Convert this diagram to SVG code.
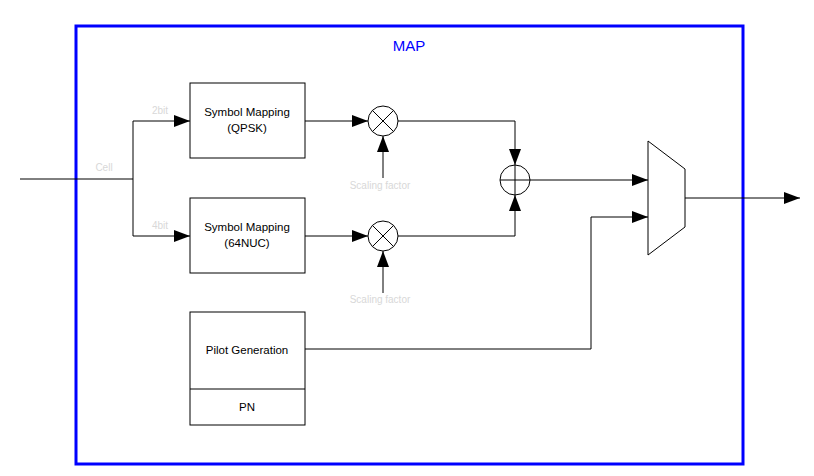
<svg xmlns="http://www.w3.org/2000/svg" width="814" height="476" viewBox="0 0 814 476">
<style>
.box{fill:#fff;stroke:#000;stroke-width:1}
.ln{fill:none;stroke:#000;stroke-width:1}
.t{font-family:"Liberation Sans",Arial,sans-serif;font-size:11.5px;fill:#000;text-anchor:middle}
.f{font-family:"Liberation Sans",Arial,sans-serif;font-size:10px;fill:#d8d8d8;text-anchor:middle}
</style>
<defs>
<marker id="ah" markerWidth="16" markerHeight="12" refX="16" refY="6" orient="auto" markerUnits="userSpaceOnUse">
<path d="M0,0 L16,6 L0,12 Z" fill="#000"/>
</marker>
</defs>
<rect width="814" height="476" fill="#fff"/>
<g id="frame">
<rect x="76" y="26" width="667" height="438" fill="none" stroke="#0000ff" stroke-width="3"/>
<text x="409" y="51" style="font-family:'Liberation Sans',Arial,sans-serif;font-size:15px;fill:#0000ff;text-anchor:middle">MAP</text>
</g>
<g id="connectors">
<path class="ln" d="M20,179 H133"/>
<path class="ln" d="M133,121 V236"/>
<path class="ln" d="M133,121 H190" marker-end="url(#ah)"/>
<path class="ln" d="M133,236 H190" marker-end="url(#ah)"/>
<path class="ln" d="M305,121 H368" marker-end="url(#ah)"/>
<path class="ln" d="M305,236 H368" marker-end="url(#ah)"/>
<path class="ln" d="M383,178 V136" marker-end="url(#ah)"/>
<path class="ln" d="M383,293 V251" marker-end="url(#ah)"/>
<path class="ln" d="M398,121 H515 V165" marker-end="url(#ah)"/>
<path class="ln" d="M398,236 H515 V195" marker-end="url(#ah)"/>
<path class="ln" d="M530,180 H648" marker-end="url(#ah)"/>
<path class="ln" d="M305,349 H591 V217 H648" marker-end="url(#ah)"/>
<path class="ln" d="M685,198 H800" marker-end="url(#ah)"/>
<text class="f" x="104" y="171">Cell</text>
<text class="f" x="160" y="114">2bit</text>
<text class="f" x="160" y="229">4bit</text>
<text class="f" x="380" y="189">Scaling factor</text>
<text class="f" x="380" y="303">Scaling factor</text>
</g>
<g id="map_qpsk">
<rect class="box" x="190" y="83" width="115" height="75"/>
<text class="t" x="247" y="116">Symbol Mapping</text>
<text class="t" x="247" y="132">(QPSK)</text>
</g>
<g id="map_64nuc">
<rect class="box" x="190" y="198" width="115" height="75"/>
<text class="t" x="247" y="231">Symbol Mapping</text>
<text class="t" x="247" y="247">(64NUC)</text>
</g>
<g id="pilot">
<rect class="box" x="190" y="312" width="115" height="113"/>
<line class="ln" x1="190" y1="389" x2="305" y2="389"/>
<text class="t" x="247" y="354">Pilot Generation</text>
<text class="t" x="247" y="411">PN</text>
</g>
<g id="mult1">
<circle class="box" cx="383" cy="121" r="15"/>
<path class="ln" d="M372.4,110.4 L393.6,131.6 M393.6,110.4 L372.4,131.6"/>
</g>
<g id="mult2">
<circle class="box" cx="383" cy="236" r="15"/>
<path class="ln" d="M372.4,225.4 L393.6,246.6 M393.6,225.4 L372.4,246.6"/>
</g>
<g id="adder">
<circle class="box" cx="515" cy="180" r="15"/>
<path class="ln" d="M500,180 H530 M515,165 V195"/>
</g>
<g id="mux">
<path d="M648,141 L685,169 L685,227 L648,255 Z" fill="#fff" stroke="#000" stroke-width="1"/>
</g>
</svg>
